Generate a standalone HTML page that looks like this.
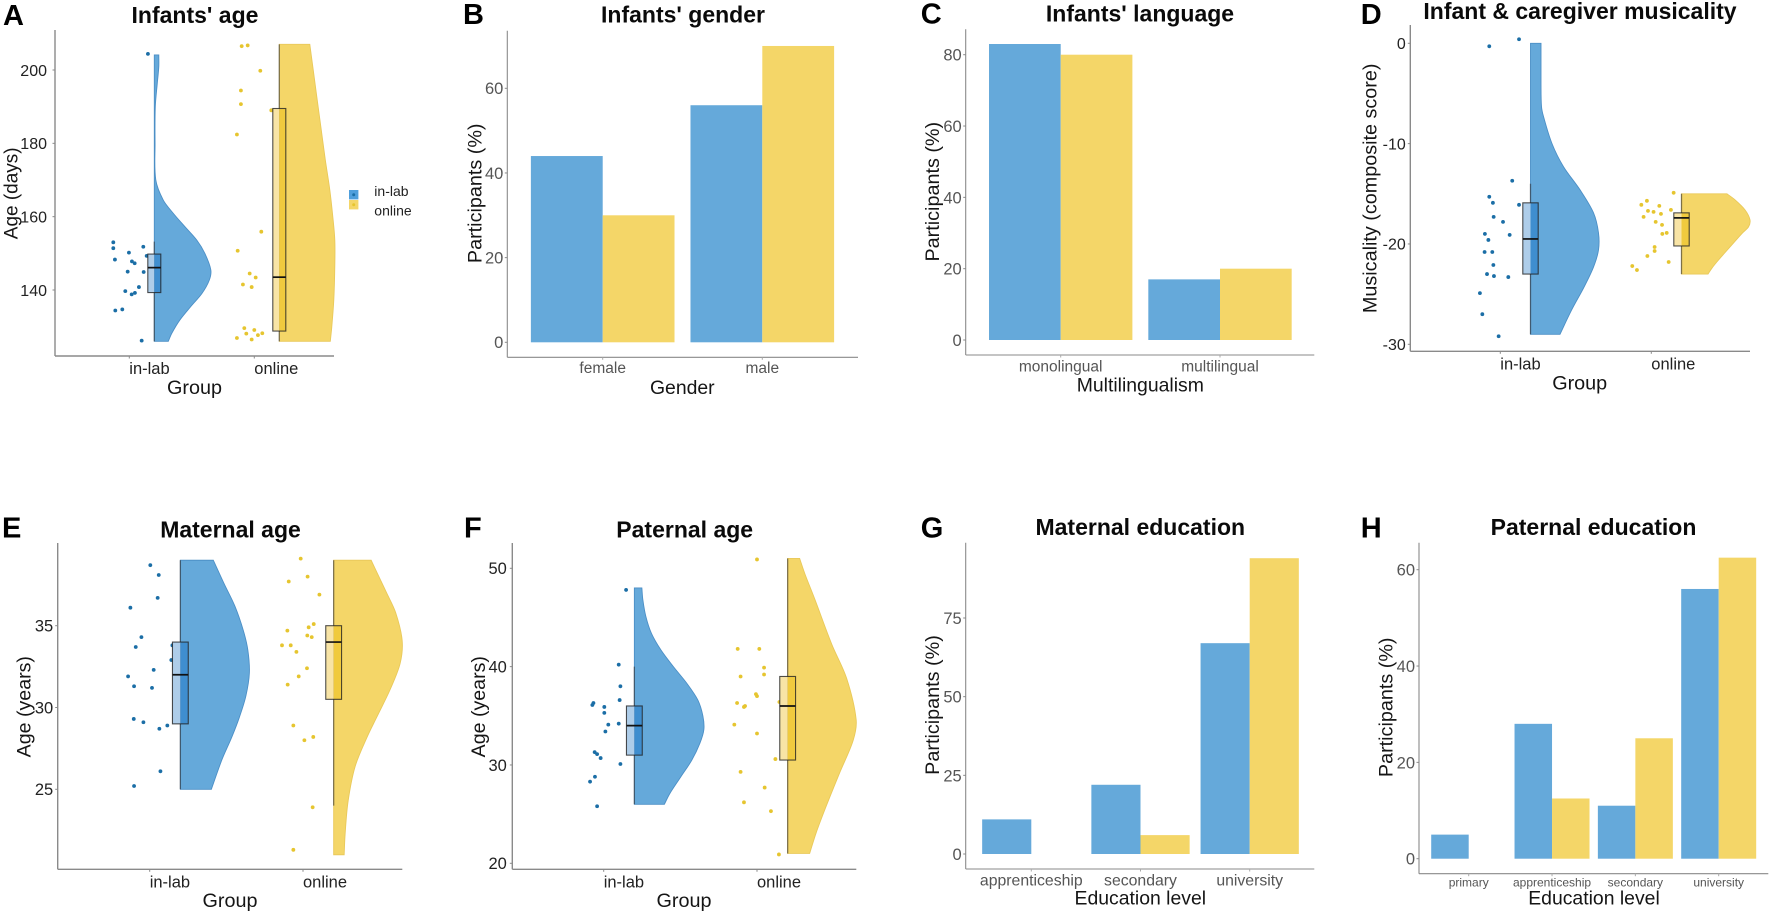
<!DOCTYPE html>
<html lang="en">
<head>
<meta charset="utf-8">
<title>Infant and caregiver sample characteristics</title>
<style>
html,body{margin:0;padding:0;background:#fff;}
#figure{display:block;width:1772px;height:915px;font-family:"Liberation Sans",Arial,sans-serif;filter:blur(0.35px);}
</style>
</head>
<body>
<svg id="figure" xmlns="http://www.w3.org/2000/svg" width="1772" height="915" viewBox="0 0 1772 915"></svg>
<script>
/* ---------- Panel A: infants' age ---------- */
const aTicks = [140, 160, 180, 200];
const aInlabValues = [153, 151.4, 148.3, 150.2, 147.8, 147.3, 151.8, 149.3, 145, 144.9, 140.8, 139.7, 138.8, 139.2, 134.4, 134.7, 126.2, 204.4];
const aInlabJitter = [-12.8, -12.8, -11.5, -0.3, 2.1, 4.3, 11.2, 13.9, -1.3, 11.5, 7.7, -3.2, 1.9, 4.5, -11.2, -5.6, 9.9, 14.9];
const aInlabDensityAt = [204.1, 200.9, 196.4, 190, 180, 170, 164.5, 160.9, 157.3, 153.6, 150, 145.5, 142.7, 139, 135.5, 131.8, 128.2, 126];
const aInlabDensity = [9, 9, 6, 2, 1.5, 3, 18, 38, 61, 85, 101, 113, 110, 95, 73, 51, 35, 28];
const aInlabBox = [126, 139.3, 146.1, 149.8, 153.2];
const aOnlineValues = [206.5, 206.7, 199.8, 194.4, 190.7, 189, 182.4, 155.9, 150.7, 144.5, 143.4, 141.5, 140.8, 129.6, 129.1, 128.1, 128.2, 127.7, 126.9, 126.5];
const aOnlineJitter = [-10.1, -5.3, 4.8, -10.7, -10.7, 13.6, -13.9, 5.6, -13.3, -3.7, 1.1, -9.1, -2.1, -8, 0, -6.4, 6.4, 2.9, -13.9, -2.1];
const aOnlineDensityAt = [207, 200.9, 192.7, 183.6, 175.5, 167.3, 160, 153.6, 146.4, 137.3, 130, 126];
const aOnlineDensity = [61, 67, 75, 84, 92, 101, 107, 111, 111, 109, 105, 102];
const aOnlineBox = [126, 128.8, 143.5, 189.5, 207];

/* ---------- Panel B: infants' gender ---------- */
const bTicks = [0, 20, 40, 60];
const bCategories = ['female', 'male'];
const bInlab = [44, 56];
const bOnline = [30, 70];

/* ---------- Panel C: infants' language ---------- */
const cTicks = [0, 20, 40, 60, 80];
const cCategories = ['monolingual', 'multilingual'];
const cInlab = [83, 17];
const cOnline = [80, 20];

/* ---------- Panel D: musicality ---------- */
const dTicks = [0, -10, -20, -30];
const dInlabValues = [-0.3, 0.4, -13.7, -15.3, -15.9, -17.3, -17.8, -16.1, -19, -19.6, -19.1, -20.8, -20.8, -22.1, -23, -23.2, -23.3, -24.9, -27, -29.2];
const dInlabJitter = [-7.3, 12.4, 7.9, -7.3, -4.9, -4.4, 1.8, 12.4, -10.2, -7.9, 6.2, -10.4, -5.3, -4.6, -8.8, -4.2, 5.3, -13.5, -11.9, -1.1];
const dInlabDensityAt = [0, -4, -6.3, -7.3, -10, -12.3, -14.6, -16.9, -18.9, -20.6, -22.3, -24.3, -26.6, -29];
const dInlabDensity = [21, 21, 22, 26, 43, 66, 99, 126, 136, 136, 126, 107, 82, 59];
const dInlabBox = [-29, -23, -19.5, -15.9, -14];
const dOnlineValues = [-14.9, -16.1, -15.7, -16.2, -16.7, -16.8, -17, -16.6, -17.3, -17.8, -18.1, -19, -18.9, -20.3, -20.7, -21.2, -21.8, -22.2, -22.6];
const dOnlineJitter = [14.8, -6.6, -2.9, 5.3, -2.2, 1.5, 6.4, 13, -5.1, 2.9, 7.1, 7.3, 10.2, 2.2, 2.2, -2.6, 11.5, -12.6, -9.5];
const dOnlineDensityAt = [-15, -15.6, -16.6, -17.6, -18.3, -18.9, -20.3, -21.6, -22.4, -23];
const dOnlineDensity = [91, 107, 127, 137, 134, 122, 97, 74, 61, 53];
const dOnlineBox = [-23, -20.2, -17.4, -16.9, -15];

/* ---------- Panel E: maternal age ---------- */
const eTicks = [25, 30, 35];
const eInlabValues = [38.7, 38.1, 36.7, 36.1, 34.3, 33.7, 33.8, 32.9, 32.3, 31.9, 31.3, 31.2, 29.3, 29.1, 28.7, 28.9, 26.1, 25.2];
const eInlabJitter = [0.4, 5.9, 5.2, -12.6, -5.4, -9.1, 14.8, 14.1, 2.6, -14.1, -10.2, 1.5, -10.4, -4.1, 6.3, 11.5, 7, -10.2];
const eInlabDensityAt = [39, 37.6, 36.2, 34.7, 33.5, 32.1, 30.7, 29.4, 28.2, 26.8, 25];
const eInlabDensity = [66, 87, 109, 126, 135, 138, 131, 118, 103, 83, 62];
const eInlabBox = [25, 29, 32, 34, 39];
const eOnlineValues = [39.1, 37.7, 38, 36.9, 34.7, 35.1, 34.9, 34.4, 34.3, 33.8, 33.8, 33.4, 32.4, 31.9, 31.4, 28.9, 28, 28.2, 23.9, 21.3];
const eOnlineJitter = [-1.5, -9.3, 3, 10.7, -10.2, 7, 3.7, 2.8, 5.7, -13.7, -8, -4.3, 2.6, -2.8, -10, -6.3, 0.9, 6.7, 6.3, -6.3];
const eOnlineDensityAt = [39, 37, 35.8, 34.1, 32.7, 31.1, 29.4, 28.2, 26.4, 24.3, 22.3, 21];
const eOnlineDensity = [75, 106, 124, 137, 133, 113, 86, 67, 43, 29, 23, 21];
const eOnlineBox = [24, 30.5, 34, 35, 39];

/* ---------- Panel F: paternal age ---------- */
const fTicks = [20, 30, 40, 50];
const fInlabValues = [47.8, 40.2, 38, 36.6, 36.3, 36.1, 35.9, 35.3, 34.1, 34.2, 33.4, 31.3, 31.1, 30.7, 30.1, 28.8, 28.3, 25.8];
const fInlabJitter = [14.6, 9.8, 10.9, 10.4, -6.7, -7.4, 0.4, 0.4, 3, 9.8, 1.1, -5.9, -4.3, -2, 10.9, -5.7, -8.9, -4.3];
const fInlabDensityAt = [48, 46.8, 45.1, 43.4, 41.7, 40, 38.3, 36.6, 35, 33.6, 32.2, 30.5, 28.8, 27.1, 26];
const fInlabDensity = [15, 17, 23, 34, 53, 78, 105, 127, 137, 139, 131, 115, 93, 71, 60];
const fInlabBox = [26, 31, 34, 36, 40];
const fOnlineValues = [50.9, 41.8, 41.8, 39.9, 39.2, 39, 37.2, 37, 36.3, 36, 35.9, 36.4, 34.1, 33.2, 30.6, 29.3, 27.7, 26.2, 25.3, 20.9];
const fOnlineJitter = [0, -12.6, 1.5, 4.6, 4.6, -10.7, -0.7, 0, -13, -7.8, -8.5, 14.6, -14.8, 0, 12, -10.7, 5, -8.5, 9.1, 14.3];
const fOnlineDensityAt = [51, 49.5, 46.9, 42.3, 38.8, 34.6, 32.5, 29.2, 25.8, 23.1, 21];
const fOnlineDensity = [24, 34, 54, 88, 118, 137, 131, 104, 77, 57, 44];
const fOnlineBox = [21, 30.5, 36, 39, 51];

/* ---------- Panel G: maternal education ---------- */
const gTicks = [0, 25, 50, 75];
const gCategories = ['apprenticeship', 'secondary', 'university'];
const gInlab = [11, 22, 67];
const gOnline = [0, 6, 94];

/* ---------- Panel H: paternal education ---------- */
const hTicks = [0, 20, 40, 60];
const hCategories = ['primary', 'apprenticeship', 'secondary', 'university'];
const hInlab = [5, 28, 11, 56];
const hOnline = [0, 12.5, 25, 62.5];

/* ---------- Legend ---------- */
const legendLabels = ['in-lab', 'online'];

const palette = {
  inlab:  {fill:'#65a9da', edge:'#4c8fc6', point:'#1b6ea6', boxLight:'#aecde9', boxDark:'#3f8ecf'},
  online: {fill:'#f4d668', edge:'#e9c95a', point:'#e6c52f', boxLight:'#f8e4a6', boxDark:'#f0ca3e'}
};

const rainPanels = [
  {id:'a', letter:'A', letterX:3, letterY:25, title:"Infants' age", titleX:195, titleY:23,
   left:55, right:334, top:30, bottom:356, yRef:[140,290,200,70], catStart:129.3, catStep:125, boxHalf:6.5,
   ticks:aTicks, tickSize:16, tickGap:8, yTitle:'Age (days)', yTitleX:17.7, yTitleY:193.3, yTitleSize:19,
   xTitleX:194.5, xTitleY:394,
   groups:[
     {key:'inlab', label:'in-lab', values:aInlabValues, jitter:aInlabJitter, densityAt:aInlabDensityAt, density:aInlabDensity, box:aInlabBox},
     {key:'online', label:'online', values:aOnlineValues, jitter:aOnlineJitter, densityAt:aOnlineDensityAt, density:aOnlineDensity, box:aOnlineBox}
   ]},
  {id:'d', letter:'D', letterX:1360.7, letterY:24, title:'Infant & caregiver musicality', titleX:1580, titleY:19,
   left:1410.3, right:1750, top:25, bottom:351.3, yRef:[0,43.3,-30,344.3], catStart:1500.3, catStep:151, boxHalf:7.7,
   ticks:dTicks, tickSize:16, tickGap:4.5, yTitle:'Musicality (composite score)', yTitleX:1376.7, yTitleY:188.3, yTitleSize:19.8,
   xTitleX:1579.7, xTitleY:389.3,
   groups:[
     {key:'inlab', label:'in-lab', values:dInlabValues, jitter:dInlabJitter, densityAt:dInlabDensityAt, density:dInlabDensity, box:dInlabBox},
     {key:'online', label:'online', values:dOnlineValues, jitter:dOnlineJitter, densityAt:dOnlineDensityAt, density:dOnlineDensity, box:dOnlineBox}
   ]},
  {id:'e', letter:'E', letterX:2, letterY:537.7, title:'Maternal age', titleX:230.5, titleY:537.7,
   left:57.7, right:402.3, top:543, bottom:869.3, yRef:[25,789.3,35,625.7], catStart:149.7, catStep:153.3, boxHalf:7.9,
   ticks:eTicks, tickSize:16.5, tickGap:4.5, yTitle:'Age (years)', yTitleX:30.7, yTitleY:706.7, yTitleSize:19.6,
   xTitleX:230, xTitleY:907,
   groups:[
     {key:'inlab', label:'in-lab', values:eInlabValues, jitter:eInlabJitter, densityAt:eInlabDensityAt, density:eInlabDensity, box:eInlabBox},
     {key:'online', label:'online', values:eOnlineValues, jitter:eOnlineJitter, densityAt:eOnlineDensityAt, density:eOnlineDensity, box:eOnlineBox}
   ]},
  {id:'f', letter:'F', letterX:464, letterY:537.7, title:'Paternal age', titleX:684.7, titleY:537.7,
   left:512.3, right:856.3, top:543, bottom:869.3, yRef:[20,863.3,50,568.3], catStart:603.7, catStep:153.3, boxHalf:7.9,
   ticks:fTicks, tickSize:16.5, tickGap:5.5, yTitle:'Age (years)', yTitleX:485, yTitleY:706.7, yTitleSize:19.6,
   xTitleX:684, xTitleY:907,
   groups:[
     {key:'inlab', label:'in-lab', values:fInlabValues, jitter:fInlabJitter, densityAt:fInlabDensityAt, density:fInlabDensity, box:fInlabBox},
     {key:'online', label:'online', values:fOnlineValues, jitter:fOnlineJitter, densityAt:fOnlineDensityAt, density:fOnlineDensity, box:fOnlineBox}
   ]}
];

const barPanels = [
  {id:'b', letter:'B', letterX:463, letterY:24, title:"Infants' gender", titleX:683, titleY:22.7,
   left:507.3, right:858, top:30.7, bottom:357.3, yRef:[0,342.3,60,88.3], catStart:602.7, catStep:159.6,
   ticks:bTicks, categories:bCategories, inlab:bInlab, online:bOnline, catSize:15.5, catY:373,
   yTitleX:481.7, yTitleY:193.3, xTitle:'Gender', xTitleX:682.3, xTitleY:394},
  {id:'c', letter:'C', letterX:920.7, letterY:23.3, title:"Infants' language", titleX:1140, titleY:21.7,
   left:965.7, right:1314.3, top:29.3, bottom:355, yRef:[0,340,80,54.7], catStart:1060.7, catStep:159.3,
   ticks:cTicks, categories:cCategories, inlab:cInlab, online:cOnline, catSize:15.5, catY:371.3,
   yTitleX:939, yTitleY:191.7, xTitle:'Multilingualism', xTitleX:1140.3, xTitleY:391.7},
  {id:'g', letter:'G', letterX:920.7, letterY:537.3, title:'Maternal education', titleX:1140.3, titleY:535,
   left:965.7, right:1314.3, top:542.7, bottom:869, yRef:[0,854,75,618], catStart:1031.3, catStep:109.2,
   ticks:gTicks, categories:gCategories, inlab:gInlab, online:gOnline, catSize:15.8, catY:885.7,
   yTitleX:939, yTitleY:705, xTitle:'Education level', xTitleX:1140.3, xTitleY:904.7},
  {id:'h', letter:'H', letterX:1360.7, letterY:537.3, title:'Paternal education', titleX:1593.5, titleY:535,
   left:1419, right:1768.3, top:542.7, bottom:873.7, yRef:[0,858.7,60,569.7], catStart:1468.7, catStep:83.33,
   ticks:hTicks, categories:hCategories, inlab:hInlab, online:hOnline, catSize:12, catY:886.7,
   yTitleX:1392.3, yTitleY:707.3, xTitle:'Education level', xTitleX:1594, xTitleY:904.7}
];

const NS = 'http://www.w3.org/2000/svg';
const root = document.getElementById('figure');

function make(tag, attrs, parent) {
  const node = document.createElementNS(NS, tag);
  for (const k in attrs) node.setAttribute(k, attrs[k]);
  parent.appendChild(node);
  return node;
}
function makeText(str, x, y, size, fill, parent, extra) {
  const node = make('text', Object.assign({x:x, y:y, 'font-size':size, fill:fill, 'font-family':'"Liberation Sans", Arial, sans-serif'}, extra || {}), parent);
  node.textContent = str;
  return node;
}
function linearY(ref) {
  const k = (ref[3] - ref[1]) / (ref[2] - ref[0]);
  return function (v) { return ref[1] + (v - ref[0]) * k; };
}
/* Cubic Hermite curve treating x as a smooth function of y, so uneven sample spacing does not create lumps. */
function smoothCurve(pts) {
  const n = pts.length;
  const slope = pts.map(function (p, i) {
    const a = pts[Math.max(i - 1, 0)], b = pts[Math.min(i + 1, n - 1)];
    return (b[0] - a[0]) / (b[1] - a[1]);
  });
  let d = '';
  for (let i = 0; i < n - 1; i++) {
    const p1 = pts[i], p2 = pts[i + 1], h = (p2[1] - p1[1]) / 3;
    const c1x = p1[0] + slope[i] * h, c1y = p1[1] + h;
    const c2x = p2[0] - slope[i + 1] * h, c2y = p2[1] - h;
    d += ' C' + c1x.toFixed(2) + ' ' + c1y.toFixed(2) + ' ' + c2x.toFixed(2) + ' ' + c2y.toFixed(2) + ' ' + p2[0].toFixed(2) + ' ' + p2[1].toFixed(2);
  }
  return d;
}

function drawFrame(p, g, y, tickSize, tickGap, tickColor, axisW) {
  const letter = makeText(p.letter, p.letterX, p.letterY, 29, '#000', g, {'font-weight':'bold'});
  
  
  const title = makeText(p.title, p.titleX, p.titleY, 23, '#0a0a0a', g, {'font-weight':'bold','text-anchor':'middle'});
  
  

  const yAxis = make('line', {x1:p.left, x2:p.left, y1:p.top, y2:p.bottom, stroke:'#8a8a8a', 'stroke-width':axisW}, g);
  
  
  const xAxis = make('line', {x1:p.left, x2:p.right, y1:p.bottom, y2:p.bottom, stroke:'#8a8a8a', 'stroke-width':axisW}, g);
  
  

  p.ticks.forEach(function (t) {
    const mark = make('line', {x1:p.left - 2.5, x2:p.left, y1:y(t), y2:y(t), stroke:'#8a8a8a', 'stroke-width':1}, g);
    
    
    const label = makeText(String(t), p.left - tickGap, y(t) + tickSize * 0.36, tickSize, tickColor, g, {'text-anchor':'end'});
    
    
  });
}

function drawRain(p) {
  const g = make('g', {}, root);
  
  
  const y = linearY(p.yRef);
  drawFrame(p, g, y, p.tickSize, p.tickGap, '#222', 1.4);

  const yT = makeText(p.yTitle, p.yTitleX, p.yTitleY, p.yTitleSize, '#151515', g, {'text-anchor':'middle', transform:'rotate(-90 ' + p.yTitleX + ' ' + p.yTitleY + ')'});
  
  
  const xT = makeText('Group', p.xTitleX, p.xTitleY, 19.8, '#151515', g, {'text-anchor':'middle'});
  
  

  p.groups.forEach(function (gr, i) {
    const c = palette[gr.key];
    const cx = p.catStart + i * p.catStep;
    const base = cx + 0.2 * p.catStep;
    const jx = function (j) { return cx + j / 100 * p.catStep; };
    const dx = function (d) { return base + d * 0.5; };

    const tick = make('line', {x1:cx, x2:cx, y1:p.bottom, y2:p.bottom + 2.5, stroke:'#8a8a8a', 'stroke-width':1}, g);
    
    
    const lab = makeText(gr.label, cx, p.bottom + 18.2, 16.5, '#222', g);
    
    

    gr.values.forEach(function (v, k) {
      const dot = make('circle', {cx:jx(gr.jitter[k]), cy:y(v), r:1.9, fill:c.point}, g);
      
      
    });

    const pts = gr.densityAt.map(function (v, k) { return [dx(gr.density[k]), y(v)]; });
    const first = gr.densityAt[0], last = gr.densityAt[gr.densityAt.length - 1];
    const d = 'M' + base + ' ' + y(first) + ' L' + pts[0][0].toFixed(2) + ' ' + pts[0][1].toFixed(2) + smoothCurve(pts) + ' L' + base + ' ' + y(last) + ' Z';
    const viol = make('path', {d:d, fill:c.fill, stroke:c.edge, 'stroke-width':0.9}, g);
    
    

    const whisker = make('line', {x1:base, x2:base, y1:y(gr.box[4]), y2:y(gr.box[0]), stroke:'#333', 'stroke-opacity':0.6, 'stroke-width':1.3}, g);
    
    

    const top = y(gr.box[3]), bot = y(gr.box[1]);
    const lh = make('rect', {x:base - p.boxHalf, y:top, width:p.boxHalf, height:bot - top, fill:c.boxLight}, g);
    
    
    const rh = make('rect', {x:base, y:top, width:p.boxHalf, height:bot - top, fill:c.boxDark}, g);
    
    
    const out = make('rect', {x:base - p.boxHalf, y:top, width:p.boxHalf * 2, height:bot - top, fill:'none', stroke:'#222', 'stroke-opacity':0.8, 'stroke-width':1.1}, g);
    
    
    const med = make('line', {x1:base - p.boxHalf, x2:base + p.boxHalf, y1:y(gr.box[2]), y2:y(gr.box[2]), stroke:'#111', 'stroke-width':1.7}, g);
    
    
  });
}

function drawBars(p) {
  const g = make('g', {}, root);
  
  
  const y = linearY(p.yRef);
  drawFrame(p, g, y, 16.5, 4, '#555', 1.1);

  const yT = makeText('Participants (%)', p.yTitleX, p.yTitleY, 19.8, '#151515', g, {'text-anchor':'middle', transform:'rotate(-90 ' + p.yTitleX + ' ' + p.yTitleY + ')'});
  
  
  const xT = makeText(p.xTitle, p.xTitleX, p.xTitleY, 19.4, '#151515', g, {'text-anchor':'middle'});
  
  

  const w = 0.45 * p.catStep;
  p.categories.forEach(function (cat, i) {
    const cx = p.catStart + i * p.catStep;
    const y0 = y(0);
    const b1 = make('rect', {x:cx - w, y:y(p.inlab[i]), width:w, height:y0 - y(p.inlab[i]), fill:palette.inlab.fill}, g);
    
    
    const b2 = make('rect', {x:cx, y:y(p.online[i]), width:w, height:y0 - y(p.online[i]), fill:palette.online.fill}, g);
    
    
    const tick = make('line', {x1:cx, x2:cx, y1:p.bottom, y2:p.bottom + 2.5, stroke:'#aaa', 'stroke-width':1}, g);
    
    
    const lab = makeText(cat, cx, p.catY, p.catSize, '#555', g, {'text-anchor':'middle'});
    
    
  });
}

function drawLegend() {
  const g = make('g', {}, root);
  
  
  const keys = ['inlab', 'online'];
  legendLabels.forEach(function (label, i) {
    const c = palette[keys[i]];
    const sw = make('rect', {x:349, y:190 + i * 10, width:9.4, height:9.4, fill:i === 0 ? '#4f9fdc' : c.fill}, g);
    
    
    const dot = make('circle', {cx:353.7, cy:194.7 + i * 10, r:1.5, fill:c.point}, g);
    
    
    const t = makeText(label, 374.3, 196 + i * 19.5, 14, '#222', g);
    
    
  });
}

rainPanels.forEach(drawRain);
barPanels.forEach(drawBars);
drawLegend();
</script>
</body>
</html>
